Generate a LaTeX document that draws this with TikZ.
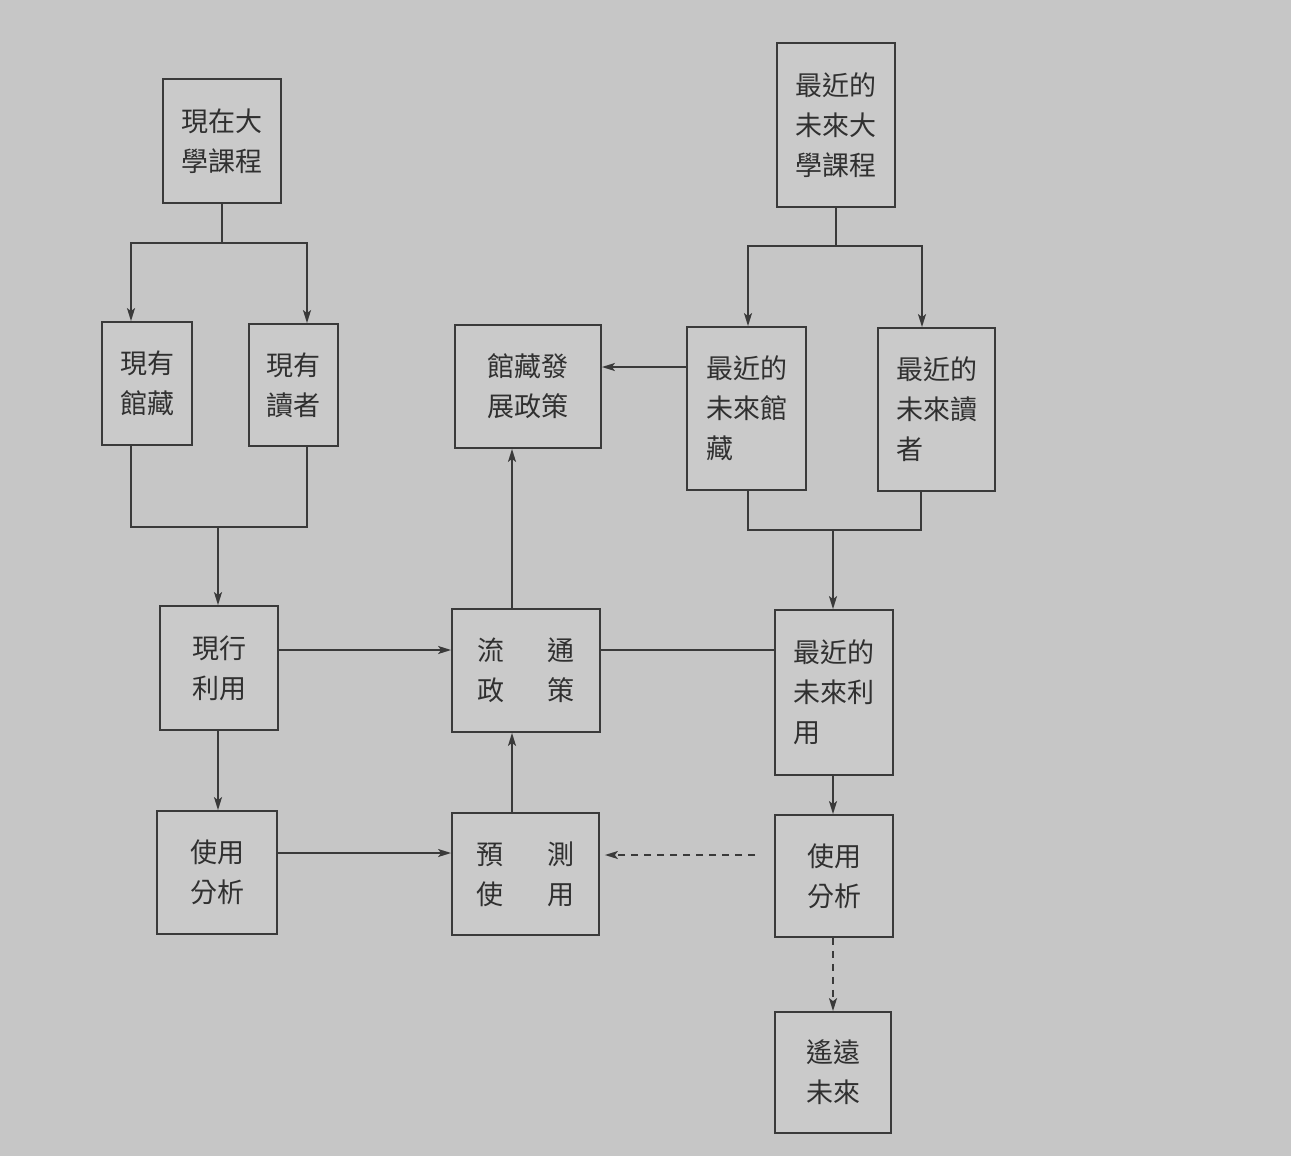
\documentclass[tikz,border=0pt]{standalone}
\usepackage{fontspec}
\newfontfamily\cjk{Noto Sans CJK TC}
\usetikzlibrary{arrows.meta}
\definecolor{bg}{HTML}{C6C6C6}
\definecolor{boxfill}{HTML}{CACACA}
\definecolor{ink}{HTML}{3A3A3A}
\definecolor{txt}{HTML}{303030}
\tikzset{
  box/.style={draw=ink, line width=1.8pt, fill=boxfill, text=txt, align=left,
    font=\cjk\fontsize{27}{40}\selectfont, inner sep=0pt},
  conn/.style={draw=ink, line width=1.6pt},
  arr/.style={conn, -{Stealth[length=13pt,width=8pt,inset=3pt]}},
  darr/.style={arr, dash pattern=on 7pt off 6pt},
}
\begin{document}
\begin{tikzpicture}[x=1pt,y=-1pt]
\path[use as bounding box, fill=bg] (0,0) rectangle (1291,1156);
% boxes
\node[box, minimum width=118, minimum height=124] (A) at (222,141) {現在大\\學課程};
\node[box, minimum width=90, minimum height=123] (B) at (147,383.5) {現有\\館藏};
\node[box, minimum width=89, minimum height=122] (C) at (293.5,385) {現有\\讀者};
\node[box, minimum width=146, minimum height=123] (D) at (528,386.5) {館藏發\\展政策};
\node[box, minimum width=118, minimum height=164] (E) at (836,125) {最近的\\未來大\\學課程};
\node[box, minimum width=119, minimum height=163] (F) at (746.5,408.5) {最近的\\未來館\\藏};
\node[box, minimum width=117, minimum height=163] (G) at (936.5,409.5) {最近的\\未來讀\\者};
\node[box, minimum width=118, minimum height=124] (H) at (219,668) {現行\\利用};
\node[box, minimum width=148, minimum height=123] (I) at (526,670.5) {流\hspace{1.6em}通\\政\hspace{1.6em}策};
\node[box, minimum width=118, minimum height=165] (J) at (834,692.5) {最近的\\未來利\\用};
\node[box, minimum width=120, minimum height=123] (K) at (217,872.5) {使用\\分析};
\node[box, minimum width=147, minimum height=122] (L) at (525.5,874) {預\hspace{1.6em}測\\使\hspace{1.6em}用};
\node[box, minimum width=118, minimum height=122] (M) at (834,876) {使用\\分析};
\node[box, minimum width=116, minimum height=121] (N) at (833,1072.5) {遙遠\\未來};
% junction points
\coordinate (s1) at (222,243);
\coordinate (m1) at (218,527);
\coordinate (s2) at (836,246);
\coordinate (m2) at (833,530);
\coordinate (dstart) at (755,855);
% connectors left tree
\draw[conn] (A.south) -- (s1);
\draw[arr] (s1) -| (B.north -| 131,0);
\draw[arr] (s1) -| (C.north -| 307,0);
\draw[conn] (B.south -| 131,0) |- (m1);
\draw[conn] (C.south -| 307,0) |- (m1);
\draw[arr] (m1) -- (H.north -| m1);
% right tree
\draw[conn] (E.south) -- (s2);
\draw[arr] (s2) -| (F.north -| 748,0);
\draw[arr] (s2) -| (G.north -| 922,0);
\draw[conn] (F.south -| 748,0) |- (m2);
\draw[conn] (G.south -| 921,0) |- (m2);
\draw[arr] (m2) -- (J.north -| m2);
\draw[arr] (J.south -| m2) -- (M.north -| m2);
\draw[darr] (M.south -| m2) -- (N.north -| m2);
% middle
\draw[arr] (H.south -| 218,0) -- (K.north -| 218,0);
\draw[arr] (H.east |- 0,650) -- (I.west |- 0,650);
\draw[arr] (K.east |- 0,853) -- (L.west |- 0,853);
\draw[arr] (L.north -| 512,0) -- (I.south -| 512,0);
\draw[arr] (I.north -| 512,0) -- (D.south -| 512,0);
\draw[conn] (I.east |- 0,650) -- (J.west |- 0,650);
\draw[arr] (F.west |- 0,367) -- (D.east |- 0,367);
\draw[darr] (dstart) -- ([xshift=5pt]L.east |- dstart);
\end{tikzpicture}
\end{document}
